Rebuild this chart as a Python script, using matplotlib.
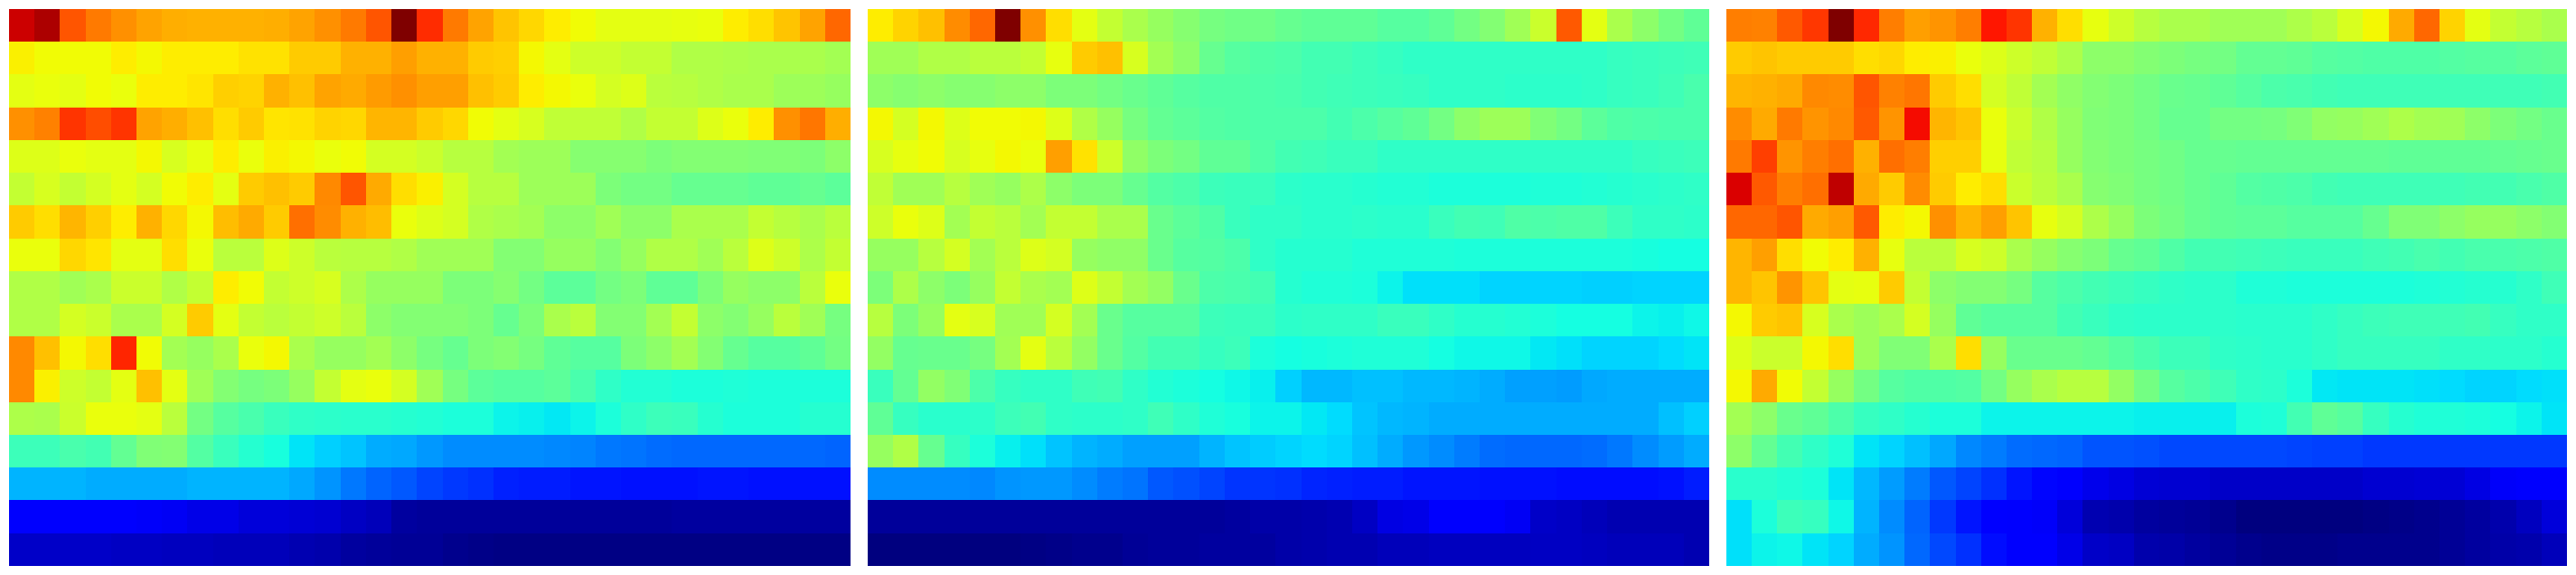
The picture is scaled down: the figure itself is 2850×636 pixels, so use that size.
import numpy as np
import matplotlib
matplotlib.use("Agg")
import matplotlib.pyplot as plt
from matplotlib.colors import FuncNorm

panel_a = [
[.93,.96,.82,.78,.755,.735,.725,.72,.72,.72,.725,.735,.755,.78,.82,1.0,.86,.78,.735,.70,.68,.66,.645,.63,.63,.63,.635,.64,.66,.675,.70,.735,.80],
[.655,.645,.645,.645,.66,.65,.66,.66,.66,.67,.67,.695,.695,.72,.72,.74,.72,.72,.695,.69,.65,.63,.61,.61,.60,.60,.58,.58,.575,.57,.57,.57,.565],
[.63,.64,.63,.645,.64,.66,.66,.665,.69,.685,.72,.705,.735,.73,.745,.755,.74,.74,.705,.695,.66,.65,.64,.615,.625,.59,.585,.58,.57,.57,.555,.555,.55],
[.755,.77,.855,.825,.855,.735,.725,.705,.675,.695,.665,.67,.685,.68,.715,.715,.695,.68,.645,.63,.62,.595,.595,.595,.58,.60,.60,.625,.64,.66,.755,.785,.725],
[.625,.625,.64,.63,.63,.65,.62,.635,.66,.64,.655,.65,.64,.645,.615,.615,.605,.585,.585,.565,.555,.555,.53,.53,.53,.515,.525,.525,.525,.52,.52,.515,.535],
[.60,.62,.60,.615,.63,.615,.645,.66,.63,.695,.705,.695,.765,.82,.73,.675,.655,.615,.585,.585,.555,.555,.555,.515,.505,.505,.49,.49,.49,.48,.48,.49,.475],
[.695,.675,.715,.69,.66,.72,.68,.65,.71,.73,.695,.79,.76,.72,.71,.64,.625,.615,.58,.57,.565,.535,.535,.56,.535,.535,.57,.57,.57,.60,.585,.57,.59],
[.64,.64,.68,.665,.63,.63,.675,.64,.59,.59,.625,.61,.59,.585,.585,.58,.56,.56,.56,.525,.525,.55,.55,.525,.55,.58,.58,.56,.59,.625,.61,.575,.60],
[.58,.58,.56,.57,.605,.605,.58,.60,.66,.645,.60,.61,.62,.575,.55,.55,.55,.515,.515,.53,.505,.475,.475,.505,.515,.48,.48,.515,.55,.535,.535,.59,.64],
[.58,.58,.615,.605,.57,.57,.615,.695,.63,.60,.59,.60,.61,.59,.535,.525,.525,.525,.515,.49,.515,.57,.59,.525,.525,.565,.60,.535,.525,.55,.59,.56,.51],
[.765,.705,.65,.675,.87,.645,.565,.55,.57,.64,.65,.57,.55,.55,.565,.535,.51,.49,.515,.525,.51,.48,.47,.47,.515,.535,.565,.525,.49,.47,.47,.48,.505],
[.765,.655,.61,.60,.63,.705,.63,.56,.525,.51,.515,.55,.60,.63,.64,.615,.56,.51,.475,.47,.47,.475,.45,.42,.39,.39,.38,.38,.385,.38,.38,.375,.375],
[.575,.57,.605,.64,.64,.63,.59,.505,.47,.45,.43,.42,.41,.405,.405,.40,.39,.38,.375,.355,.35,.345,.355,.38,.42,.435,.43,.40,.375,.375,.375,.395,.395],
[.435,.435,.45,.445,.485,.52,.525,.465,.43,.40,.37,.34,.32,.31,.29,.285,.27,.26,.26,.26,.26,.255,.25,.24,.235,.23,.225,.225,.225,.225,.225,.225,.22],
[.295,.295,.295,.29,.29,.29,.29,.295,.295,.295,.295,.285,.265,.24,.22,.21,.19,.18,.17,.155,.15,.15,.145,.145,.14,.14,.14,.145,.145,.14,.14,.14,.14],
[.11,.11,.11,.11,.11,.105,.10,.09,.09,.08,.08,.075,.07,.06,.05,.03,.025,.025,.025,.025,.025,.025,.025,.025,.025,.025,.03,.03,.03,.03,.03,.03,.03],
[.065,.065,.065,.065,.06,.06,.055,.055,.05,.05,.05,.045,.04,.03,.025,.02,.02,.015,.01,.005,.005,.005,.005,.005,.005,.005,.005,.005,.005,.005,.005,.005,.005],
]

panel_b = [
[.66,.685,.705,.76,.80,1.0,.755,.675,.63,.60,.57,.55,.53,.51,.50,.50,.49,.48,.48,.48,.47,.47,.48,.505,.525,.56,.605,.815,.63,.57,.535,.505,.48],
[.56,.56,.58,.58,.59,.59,.60,.635,.695,.705,.62,.565,.535,.49,.47,.46,.455,.445,.445,.435,.425,.42,.42,.42,.42,.42,.42,.42,.42,.425,.43,.435,.44],
[.535,.53,.535,.53,.53,.535,.535,.515,.515,.505,.495,.48,.47,.46,.46,.455,.45,.445,.44,.435,.43,.425,.42,.415,.415,.41,.41,.41,.42,.425,.43,.44,.45],
[.65,.615,.65,.625,.645,.645,.65,.625,.58,.55,.51,.485,.475,.465,.46,.455,.455,.455,.445,.455,.47,.48,.505,.535,.555,.555,.52,.505,.475,.46,.455,.45,.45],
[.62,.635,.645,.62,.635,.65,.64,.74,.67,.61,.54,.515,.505,.48,.48,.46,.445,.44,.43,.43,.42,.415,.415,.415,.415,.415,.415,.415,.42,.42,.425,.43,.435],
[.595,.56,.56,.585,.56,.55,.575,.535,.515,.515,.49,.465,.455,.435,.43,.43,.41,.405,.405,.395,.39,.39,.38,.38,.38,.38,.385,.385,.39,.40,.405,.41,.42],
[.61,.64,.625,.565,.60,.59,.565,.60,.60,.57,.57,.495,.475,.46,.43,.42,.42,.405,.405,.41,.405,.405,.43,.445,.44,.46,.455,.46,.46,.435,.42,.415,.41],
[.55,.55,.585,.615,.565,.59,.625,.615,.55,.54,.54,.495,.47,.465,.455,.42,.40,.40,.395,.385,.385,.385,.385,.38,.375,.375,.38,.38,.38,.38,.37,.365,.365],
[.515,.575,.535,.515,.55,.60,.57,.565,.625,.60,.565,.545,.495,.455,.45,.445,.40,.385,.385,.38,.355,.335,.335,.335,.325,.325,.325,.325,.32,.32,.325,.325,.325],
[.585,.515,.55,.63,.62,.56,.56,.615,.565,.495,.47,.47,.47,.435,.43,.43,.41,.42,.42,.42,.43,.43,.415,.40,.40,.39,.375,.365,.365,.365,.355,.35,.36],
[.545,.49,.495,.495,.51,.565,.63,.59,.545,.495,.465,.445,.445,.425,.435,.38,.365,.37,.38,.385,.385,.385,.365,.36,.36,.36,.345,.335,.325,.325,.325,.33,.34],
[.43,.485,.545,.52,.455,.425,.42,.42,.44,.445,.415,.39,.375,.365,.36,.35,.32,.30,.30,.305,.305,.30,.30,.295,.29,.28,.28,.275,.285,.29,.29,.29,.29],
[.48,.425,.405,.405,.41,.435,.445,.42,.41,.41,.42,.44,.42,.385,.37,.355,.355,.345,.33,.31,.30,.295,.29,.29,.29,.29,.29,.29,.29,.29,.29,.305,.32],
[.55,.58,.49,.425,.38,.35,.335,.31,.295,.29,.28,.28,.28,.295,.31,.315,.325,.33,.325,.305,.29,.27,.26,.245,.23,.225,.225,.225,.23,.24,.26,.275,.29],
[.26,.26,.26,.26,.255,.265,.27,.27,.26,.245,.235,.21,.20,.19,.175,.175,.17,.16,.155,.15,.15,.145,.145,.145,.14,.14,.14,.135,.135,.135,.135,.14,.15],
[.025,.025,.025,.025,.025,.025,.025,.025,.025,.025,.025,.025,.025,.025,.03,.035,.035,.04,.045,.06,.085,.09,.11,.11,.11,.10,.065,.06,.05,.045,.045,.045,.045],
[0,0,0,0,0,0,.005,.01,.015,.015,.02,.025,.025,.03,.03,.03,.035,.04,.045,.045,.05,.05,.055,.055,.055,.055,.06,.06,.055,.05,.05,.05,.045],
]

panel_c = [
[.775,.77,.815,.85,1.0,.865,.775,.74,.75,.775,.885,.855,.72,.675,.635,.61,.585,.57,.57,.56,.56,.56,.575,.59,.62,.65,.73,.80,.685,.63,.60,.585,.57],
[.695,.70,.695,.695,.695,.675,.68,.66,.655,.64,.625,.61,.595,.575,.535,.535,.525,.515,.51,.505,.485,.485,.48,.47,.465,.46,.46,.46,.465,.47,.47,.475,.48],
[.715,.72,.73,.765,.76,.82,.77,.785,.695,.675,.615,.595,.565,.54,.525,.515,.505,.495,.49,.48,.47,.455,.45,.445,.44,.44,.44,.44,.44,.44,.44,.44,.445],
[.76,.73,.78,.75,.765,.815,.75,.895,.715,.70,.64,.605,.58,.55,.52,.515,.505,.49,.49,.505,.505,.51,.52,.545,.55,.56,.575,.565,.56,.535,.515,.505,.495],
[.78,.84,.75,.775,.79,.72,.79,.775,.69,.69,.635,.595,.585,.55,.525,.515,.51,.50,.49,.49,.485,.485,.485,.485,.485,.485,.48,.48,.48,.48,.485,.49,.495],
[.92,.815,.775,.79,.945,.73,.695,.76,.695,.66,.675,.605,.59,.57,.53,.52,.51,.50,.49,.48,.465,.46,.455,.445,.44,.44,.44,.44,.44,.445,.445,.45,.46],
[.80,.80,.82,.73,.74,.815,.66,.65,.755,.715,.74,.70,.635,.615,.575,.55,.515,.505,.49,.48,.475,.475,.47,.47,.47,.49,.52,.52,.535,.55,.55,.535,.525],
[.715,.74,.675,.645,.66,.72,.635,.59,.59,.62,.61,.57,.55,.53,.515,.49,.48,.46,.445,.445,.44,.435,.43,.43,.43,.44,.445,.45,.445,.45,.45,.455,.46],
[.715,.70,.75,.70,.63,.635,.695,.60,.535,.525,.525,.51,.47,.455,.445,.435,.425,.415,.41,.41,.385,.385,.375,.375,.375,.375,.38,.385,.39,.395,.40,.42,.44],
[.65,.695,.70,.62,.57,.555,.57,.615,.55,.48,.47,.47,.47,.445,.43,.42,.41,.41,.41,.41,.405,.405,.405,.42,.425,.435,.44,.44,.44,.445,.425,.415,.415],
[.625,.605,.605,.65,.675,.555,.52,.52,.57,.675,.55,.495,.495,.495,.485,.47,.45,.435,.435,.42,.41,.405,.405,.42,.425,.425,.425,.425,.42,.42,.41,.41,.395],
[.65,.73,.645,.60,.55,.505,.47,.46,.46,.465,.505,.55,.57,.585,.585,.545,.505,.47,.455,.44,.42,.41,.38,.345,.34,.34,.34,.335,.33,.325,.325,.33,.335],
[.565,.535,.495,.48,.455,.425,.415,.395,.38,.375,.355,.355,.355,.355,.355,.355,.35,.35,.35,.35,.375,.385,.445,.48,.47,.425,.395,.385,.385,.38,.365,.355,.34],
[.535,.485,.445,.42,.385,.34,.325,.305,.285,.255,.245,.23,.225,.22,.205,.205,.20,.195,.195,.195,.195,.195,.19,.185,.185,.18,.18,.18,.18,.18,.18,.18,.18],
[.405,.405,.39,.375,.34,.30,.275,.245,.21,.19,.17,.145,.13,.11,.095,.085,.075,.07,.07,.065,.065,.065,.065,.065,.065,.07,.07,.075,.075,.085,.105,.11,.11],
[.335,.375,.435,.425,.36,.295,.26,.22,.18,.145,.115,.11,.105,.08,.045,.04,.03,.025,.02,.015,0,0,0,0,0,.005,.01,.015,.02,.03,.04,.055,.08],
[.335,.355,.36,.34,.325,.29,.265,.225,.195,.17,.135,.11,.11,.09,.065,.06,.04,.035,.03,.02,.015,.01,.01,.01,.015,.015,.015,.015,.02,.03,.035,.04,.05],
]

panels = [panel_a, panel_b, panel_c]

# Colour-scale calibration: my estimates against the colours seen in the reference.
scale_in = [0, .28, .32, .35, .37, .42, .50, .58, .63, .66, 1]
scale_out = [0, .285, .33, .36, .38, .41, .485, .565, .625, .66, 1]
norm = FuncNorm((lambda v: np.interp(v, scale_in, scale_out),
                 lambda v: np.interp(v, scale_out, scale_in)), vmin=0, vmax=1)

W, H = 2850, 636
left_edges = [10, 960, 1910]
fig = plt.figure(figsize=(W / 100, H / 100), dpi=100, facecolor="white")
for left, panel in zip(left_edges, panels):
    ax = fig.add_axes([left / W, 1 - 626 / H, 930 / W, 616 / H])
    ax.imshow(np.array(panel), cmap="jet", norm=norm, aspect="auto", interpolation="nearest")
    ax.axis("off")
fig.savefig("out.png", dpi=100, facecolor="white")
